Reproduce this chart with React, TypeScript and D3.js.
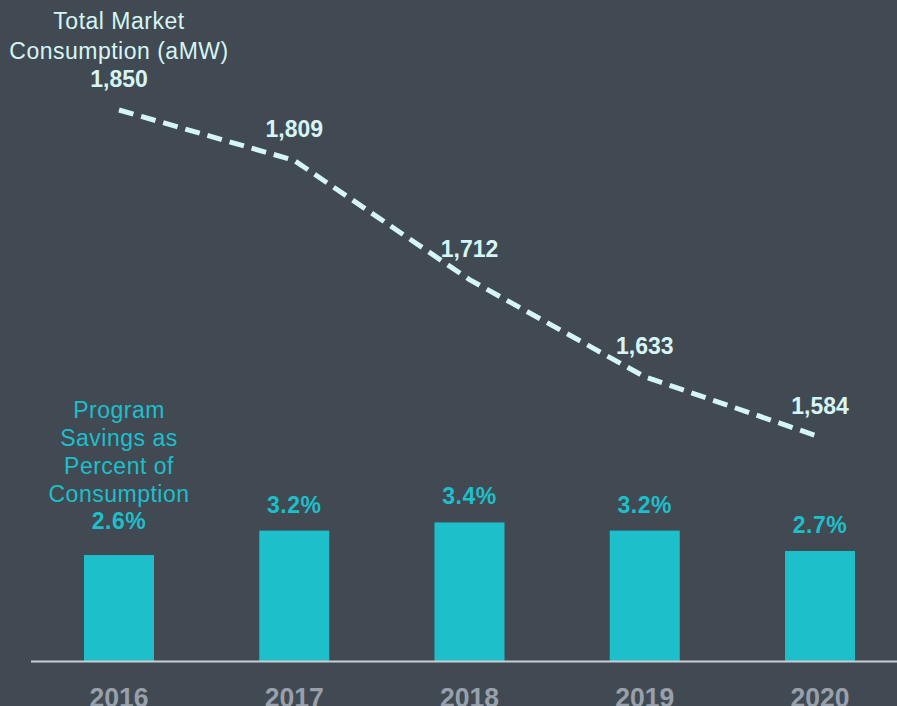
import * as d3 from "d3";
import { useEffect, useRef } from "react";

const years = ["2016", "2017", "2018", "2019", "2020"];
const consumption = [1850, 1809, 1712, 1633, 1584];
const savingsPct = [2.6, 3.2, 3.4, 3.2, 2.7];
const lineTitle = ["Total Market", "Consumption (aMW)"];
const barTitle = ["Program", "Savings as", "Percent of", "Consumption"];

const W = 897;
const H = 706;
const BG = "#414a53";
const TEAL = "#1dbfca";
const LIGHT = "#d6f5f5";
const FONT = "'Liberation Sans', Arial, Helvetica, sans-serif";

export default function App() {
    const ref = useRef<SVGSVGElement | null>(null);

    useEffect(() => {
        if (!ref.current) return;
        const svg = d3.select(ref.current);
        svg.selectAll("*").remove();

        const baseY = 661;
        const barW = 70;

        const x = d3.scalePoint<string>().domain(years).range([119, 820]);
        const yBar = d3.scaleLinear().domain([0, 4]).range([baseY, baseY - 163]);
        const yLine = d3.scaleLinear().domain([1584, 1850]).range([437, 110]);

        svg.append("rect").attr("width", W).attr("height", H).attr("fill", BG);

        // bars
        svg.append("g")
            .selectAll("rect")
            .data(savingsPct)
            .join("rect")
            .attr("x", (_, i) => x(years[i])! - barW / 2)
            .attr("y", (d) => yBar(d))
            .attr("width", barW)
            .attr("height", (d) => baseY - yBar(d))
            .attr("fill", TEAL);

        // bar value labels (first one sits under the series title)
        svg.append("g")
            .selectAll("text")
            .data(savingsPct)
            .join("text")
            .attr("x", (_, i) => x(years[i])!)
            .attr("y", (d, i) => yBar(d) - (i === 0 ? 26 : 18))
            .attr("text-anchor", "middle")
            .attr("font-family", FONT)
            .attr("font-weight", "bold")
            .attr("font-size", 23)
            .attr("letter-spacing", 0.5)
            .attr("fill", TEAL)
            .text((d) => `${d.toFixed(1)}%`);

        // baseline
        svg.append("line")
            .attr("x1", 31)
            .attr("x2", W)
            .attr("y1", baseY + 0.5)
            .attr("y2", baseY + 0.5)
            .attr("stroke", "#c9ced3")
            .attr("stroke-width", 2);

        // year labels
        svg.append("g")
            .selectAll("text")
            .data(years)
            .join("text")
            .attr("x", (d) => x(d)!)
            .attr("y", 707)
            .attr("text-anchor", "middle")
            .attr("font-family", FONT)
            .attr("font-weight", "bold")
            .attr("font-size", 27)
            .attr("textLength", 59)
            .attr("lengthAdjust", "spacingAndGlyphs")
            .attr("fill", "#98a1ab")
            .text((d) => d);

        // consumption line
        const line = d3.line<number>()
            .x((_, i) => x(years[i])!)
            .y((d) => yLine(d));

        svg.append("path")
            .datum(consumption)
            .attr("d", line)
            .attr("fill", "none")
            .attr("stroke", LIGHT)
            .attr("stroke-width", 5)
            .attr("stroke-dasharray", "15 8");

        svg.append("g")
            .selectAll("text")
            .data(consumption)
            .join("text")
            .attr("x", (_, i) => x(years[i])!)
            .attr("y", (d) => yLine(d) - 23)
            .attr("text-anchor", "middle")
            .attr("font-family", FONT)
            .attr("font-weight", "bold")
            .attr("font-size", 23)
            .attr("fill", LIGHT)
            .text((d) => d3.format(",")(d));

        // series titles
        svg.append("g")
            .selectAll("text")
            .data(lineTitle)
            .join("text")
            .attr("x", x(years[0])!)
            .attr("y", (_, i) => 29 + i * 30)
            .attr("text-anchor", "middle")
            .attr("font-family", FONT)
            .attr("font-size", 23)
            .attr("letter-spacing", 0.5)
            .attr("fill", LIGHT)
            .text((d) => d);

        svg.append("g")
            .selectAll("text")
            .data(barTitle)
            .join("text")
            .attr("x", x(years[0])!)
            .attr("y", (_, i) => 418 + i * 28)
            .attr("text-anchor", "middle")
            .attr("font-family", FONT)
            .attr("font-size", 23)
            .attr("letter-spacing", 0.5)
            .attr("fill", TEAL)
            .text((d) => d);
    }, []);

    return (
        <svg
            ref={ref}
            width={W}
            height={H}
            style={{ position: "absolute", left: 0, top: 0, display: "block" }}
        ></svg>
    );
}
